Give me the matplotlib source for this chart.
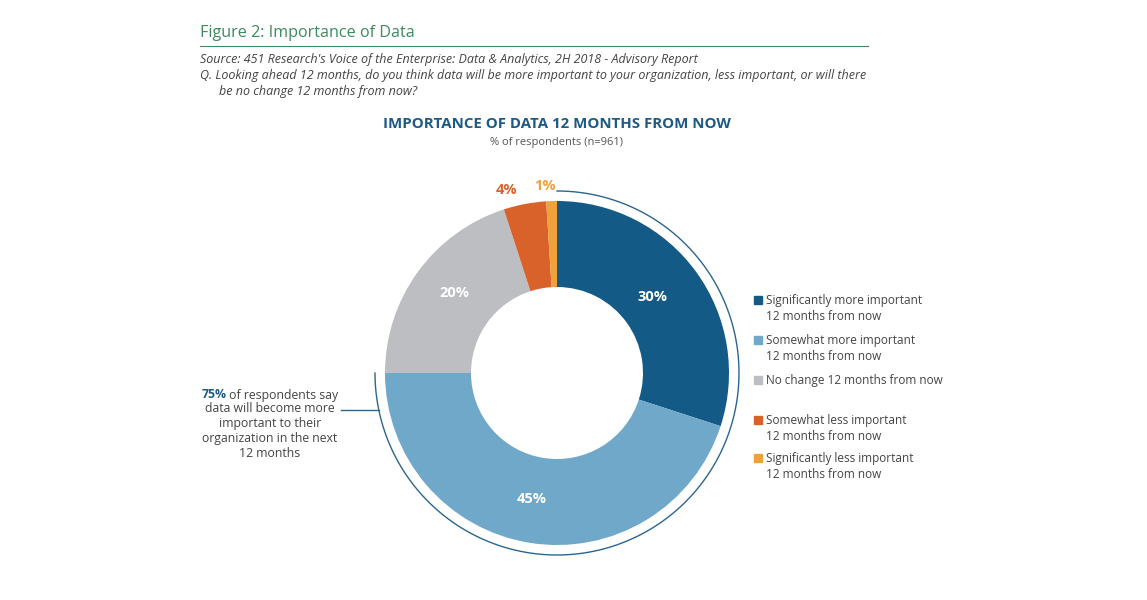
import matplotlib
matplotlib.use("Agg")
import matplotlib.pyplot as plt
import numpy as np

plt.rcParams['font.family'] = ['Open Sans', 'DejaVu Sans']

labels = ['Significantly more important\n12 months from now',
          'Somewhat more important\n12 months from now',
          'No change 12 months from now',
          'Somewhat less important\n12 months from now',
          'Significantly less important\n12 months from now']
values = [30, 45, 20, 4, 1]
pct_labels = ['30%', '45%', '20%', '4%', '1%']
colors = ['#135a86', '#6fa8c9', '#bdbec2', '#d9622b', '#f0a13a']
label_colors = ['white', 'white', 'white', '#d9622b', '#f0a13a']

W, H = 1147, 600
fig = plt.figure(figsize=(W / 100, H / 100), dpi=100)

def fx(x):
    return x / W

def fy(y):
    return 1 - y / H

# header
fig.text(fx(200), fy(33), 'Figure 2: Importance of Data', color='#3d8a5f',
         fontsize=11.6, va='center', ha='left')
fig.add_artist(plt.Line2D([fx(200), fx(868)], [fy(46), fy(46)], color='#3d8a5f', lw=0.8))
fig.text(fx(200), fy(59), "Source: 451 Research's Voice of the Enterprise: Data & Analytics, 2H 2018 - Advisory Report",
         color='#444444', fontsize=9, style='italic', va='center', ha='left')
fig.text(fx(200), fy(76), 'Q. Looking ahead 12 months, do you think data will be more important to your organization, less important, or will there',
         color='#444444', fontsize=9, style='italic', va='center', ha='left')
fig.text(fx(219), fy(92), 'be no change 12 months from now?',
         color='#444444', fontsize=9, style='italic', va='center', ha='left')

fig.text(fx(557), fy(124), 'IMPORTANCE OF DATA 12 MONTHS FROM NOW', color='#1d5a85',
         fontsize=10.8, fontweight='bold', va='center', ha='center')
fig.text(fx(557), fy(143), '% of respondents (n=961)', color='#555555',
         fontsize=8, va='center', ha='center')

# donut
cx, cy = 557, 373
ax = fig.add_axes([fx(cx - 200), 1 - (cy + 200) / H, 400 / W, 400 / H])

R = 0.86
wedges, _ = ax.pie(values, colors=colors, startangle=90, counterclock=False,
                   radius=R, wedgeprops=dict(width=R / 2, linewidth=0))
ax.set_xlim(-1, 1)
ax.set_ylim(-1, 1)
ax.set_aspect('equal')
ax.axis('off')

label_pos = [(652, 297), (532, 499), (454, 293), (507, 190), (545, 186)]
for txt, c, (px, py) in zip(pct_labels, label_colors, label_pos):
    ax.text((px - cx) / 200, (cy - py) / 200, txt, color=c, fontsize=10.5,
            fontweight='bold', ha='center', va='center', clip_on=False)

# bracket arc around the 75%
ra = 0.91
theta = np.linspace(np.pi / 2, -np.pi, 300)
ax.plot(ra * np.cos(theta), ra * np.sin(theta), color='#2b6690', lw=1.0, clip_on=False)
ly = (cy - 410) / 200
ax.plot([(341 - cx) / 200, -np.sqrt(ra ** 2 - ly ** 2)], [ly, ly], color='#2b6690',
        lw=1.0, clip_on=False)

# annotation
renderer = fig.canvas.get_renderer()
t1 = fig.text(0, fy(395), '75%', color='#1d5a85', fontsize=8.8, fontweight='bold',
              ha='left', va='center')
t2 = fig.text(0, fy(395), ' of respondents say', color='#444444', fontsize=8.8,
              ha='left', va='center')
w1 = t1.get_window_extent(renderer).width
w2 = t2.get_window_extent(renderer).width
x0 = 270 - (w1 + w2) / 2
t1.set_x(fx(x0))
t2.set_x(fx(x0 + w1))
fig.text(fx(270), fy(431), 'data will become more\nimportant to their\norganization in the next\n12 months',
         color='#444444', fontsize=8.8, ha='center', va='center', linespacing=1.2)

# legend
leg_y = [300, 340, 380, 420, 458]
for lab, c, y in zip(labels, colors, leg_y):
    fig.add_artist(plt.Rectangle((fx(754), fy(y) - 4 / H), 8 / W, 8 / H, color=c))
    fig.text(fx(766), fy(y - 6), lab, color='#444444', fontsize=8.5, ha='left', va='top',
             linespacing=1.3)

fig.savefig('out.png', dpi=100)
